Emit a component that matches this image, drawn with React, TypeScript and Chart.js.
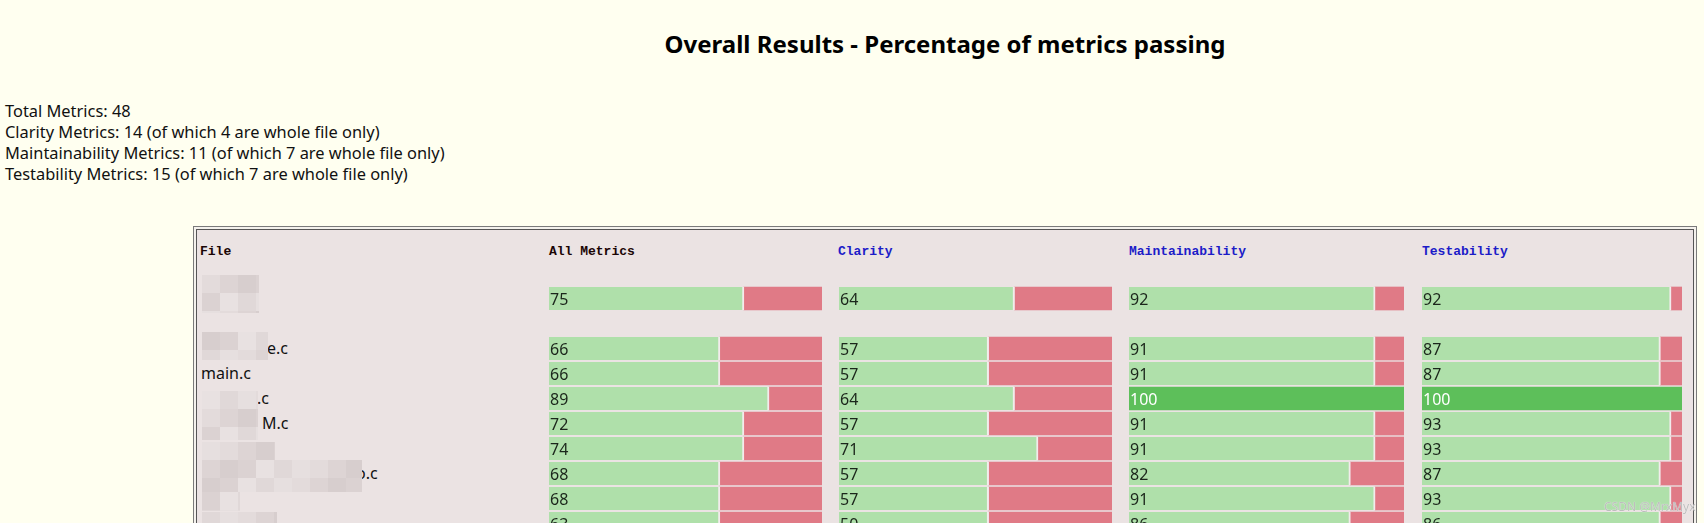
import React, { useEffect, useRef } from "react";
import { Chart, registerables } from "chart.js";

Chart.register(...registerables);

// ---------- text ----------
const titleText = "Overall Results - Percentage of metrics passing";
const summaryLines = [
  "Total Metrics: 48",
  "Clarity Metrics: 14 (of which 4 are whole file only)",
  "Maintainability Metrics: 11 (of which 7 are whole file only)",
  "Testability Metrics: 15 (of which 7 are whole file only)",
];
const columnHeaders = ["File", "All Metrics", "Clarity", "Maintainability", "Testability"];

// ---------- rows (row 0 = overall, row 1 = spacer, then one row per file) ----------
const rowKeys = ["overall", "spacer", "file1", "file2", "file3", "file4", "file5", "file6", "file7", "file8"];
const fileNames = ["", "", "e.c", "main.c", ".c", "M.c", "", "o.c", "", ""];

// percentage of metrics passing (printed value)
const allScore = [75, null, 66, 66, 89, 72, 74, 68, 68, 63];
const clarityScore = [64, null, 57, 57, 64, 57, 71, 57, 57, 50];
const maintScore = [92, null, 91, 91, 100, 91, 91, 82, 91, 86];
const testScore = [92, null, 87, 87, 100, 93, 93, 87, 93, 86];

// passing share of each bar as drawn in the picture (percent of bar length)
const allBar = [71.4, null, 62.6, 62.6, 80.6, 71.4, 71.4, 62.6, 62.6, 62.6];
const clarityBar = [64.3, null, 54.8, 54.8, 64.3, 54.8, 72.9, 54.8, 54.8, 54.8];
const maintBar = [89.5, null, 89.5, 89.5, 100, 89.5, 89.5, 80.5, 89.5, 80.5];
const testBar = [95.8, null, 91.7, 91.7, 100, 95.8, 95.8, 91.7, 95.8, 91.7];

// ---------- style / layout ----------
const PAGE_BG = "#fffff0";
const TABLE_BG = "#ebe3e3";
const GREEN = "#afe0aa";
const GREEN_FULL = "#5dbf5a";
const RED = "#e07a86";
const GAP = "#f2ecec";
const HEADER_DARK = "#1a0505";
const HEADER_BLUE = "#1c1cc8";

const BAR_TOP = 286;
const ROW_PITCH = 25;
const HEADER_X = [200, 549, 838, 1129, 1422];
const COLS = [
  { left: 549, width: 273 },
  { left: 839, width: 273 },
  { left: 1129, width: 275 },
  { left: 1422, width: 260 },
];
const FILE_X = [201, 201, 267, 201, 257, 262, 201, 356, 201, 201];

// pixelated (blurred) name areas
const BLUR_RECTS = [
  { x: 202, y: 275, w: 57, h: 38 },
  { x: 202, y: 332, w: 66, h: 28 },
  { x: 202, y: 391, w: 56, h: 49 },
  { x: 202, y: 442, w: 73, h: 18 },
  { x: 202, y: 460, w: 160, h: 32 },
  { x: 202, y: 492, w: 38, h: 19 },
  { x: 202, y: 512, w: 75, h: 20 },
];
const BLUR_SHADES = ["#e3dbdb", "#dbd2d2", "#e6dfdf", "#d7cece", "#e0d8d8", "#ddd4d4", "#e8e1e1"];

function Mosaic({ x, y, w, h, seed }: { x: number; y: number; w: number; h: number; seed: number }) {
  const cells: React.ReactNode[] = [];
  const cs = 18;
  let k = 0;
  for (let yy = 0; yy < h; yy += cs) {
    for (let xx = 0; xx < w; xx += cs) {
      const shade = BLUR_SHADES[(seed * 3 + k * 5 + (yy / cs) * 2) % BLUR_SHADES.length];
      cells.push(
        <div
          key={k}
          style={{
            position: "absolute",
            left: x + xx,
            top: y + yy,
            width: Math.min(cs, w - xx),
            height: Math.min(cs, h - yy),
            background: shade,
          }}
        />
      );
      k++;
    }
  }
  return <>{cells}</>;
}

function BarColumn({
  scores,
  bars,
  left,
  width,
}: {
  scores: (number | null)[];
  bars: (number | null)[];
  left: number;
  width: number;
}) {
  const ref = useRef<HTMLCanvasElement | null>(null);
  useEffect(() => {
    if (!ref.current) return;
    const labelPlugin = {
      id: "scoreLabels",
      afterDatasetsDraw(chart: any) {
        const ctx = chart.ctx;
        const meta = chart.getDatasetMeta(0);
        ctx.save();
        ctx.font = "16px 'Noto Sans'";
        ctx.textAlign = "left";
        ctx.textBaseline = "alphabetic";
        scores.forEach((s, i) => {
          if (s == null) return;
          const el = meta.data[i];
          ctx.fillStyle = s >= 100 ? "#ffffff" : "#1b261b";
          ctx.fillText(String(s), 1, el.y + 6.5);
        });
        ctx.restore();
      },
    };
    const chart = new Chart(ref.current, {
      type: "bar",
      data: {
        labels: rowKeys,
        datasets: [
          {
            data: bars as any,
            backgroundColor: bars.map((v) => (v != null && v >= 100 ? GREEN_FULL : GREEN)),
            borderColor: GAP,
            borderWidth: bars.map((v) => ({ top: 0, bottom: 0, left: 0, right: v != null && v >= 100 ? 0 : 2 })) as any,
            borderSkipped: false,
            barThickness: 23,
            stack: "s",
          },
          {
            data: bars.map((v) => (v == null ? null : 100 - v)) as any,
            backgroundColor: RED,
            borderWidth: 0,
            barThickness: 23,
            stack: "s",
          },
        ],
      },
      options: {
        indexAxis: "y",
        responsive: false,
        maintainAspectRatio: false,
        animation: false,
        events: [],
        layout: { padding: 0 },
        scales: {
          x: { display: false, stacked: true, min: 0, max: 100 },
          y: { display: false, stacked: true },
        },
        plugins: {
          legend: { display: false },
          tooltip: { enabled: false },
          title: { display: false },
        },
      },
      plugins: [labelPlugin],
    });
    return () => chart.destroy();
  }, [scores, bars]);
  return (
    <canvas
      ref={ref}
      width={width}
      height={ROW_PITCH * rowKeys.length}
      style={{
        position: "absolute",
        left,
        top: BAR_TOP,
        width,
        height: ROW_PITCH * rowKeys.length,
      }}
    />
  );
}

export default function App() {
  const columns = [
    { scores: allScore, bars: allBar },
    { scores: clarityScore, bars: clarityBar },
    { scores: maintScore, bars: maintBar },
    { scores: testScore, bars: testBar },
  ];
  return (
    <div
      style={{
        position: "fixed",
        left: 0,
        top: 0,
        width: 1704,
        height: 523,
        overflow: "hidden",
        background: PAGE_BG,
        fontFamily: "'Noto Sans', sans-serif",
        color: "#111",
      }}
    >
      <div
        style={{
          position: "absolute",
          left: 945,
          top: 32,
          transform: "translateX(-50%)",
          whiteSpace: "nowrap",
          fontSize: 24,
          lineHeight: "24px",
          fontWeight: 700,
          color: "#000",
        }}
      >
        {titleText}
      </div>
      {summaryLines.map((t, i) => (
        <div
          key={i}
          style={{
            position: "absolute",
            left: 5,
            top: 100 + 21 * i,
            fontSize: 16.4,
            lineHeight: "21px",
            whiteSpace: "nowrap",
          }}
        >
          {t}
        </div>
      ))}

      {/* table frame */}
      <div
        style={{
          position: "absolute",
          left: 193,
          top: 226,
          width: 1504,
          height: 400,
          boxSizing: "border-box",
          border: "1px solid #7a7a7a",
          background: "#f4f1ec",
        }}
      />
      <div
        style={{
          position: "absolute",
          left: 196,
          top: 229,
          width: 1498,
          height: 400,
          boxSizing: "border-box",
          border: "1px solid #555",
          background: TABLE_BG,
        }}
      />

      {columnHeaders.map((h, i) => (
        <div
          key={h}
          style={{
            position: "absolute",
            left: HEADER_X[i],
            top: 245,
            fontFamily: "'Liberation Mono', monospace",
            fontWeight: 700,
            fontSize: 13,
            lineHeight: "13px",
            whiteSpace: "nowrap",
            color: i < 2 ? HEADER_DARK : HEADER_BLUE,
          }}
        >
          {h}
        </div>
      ))}

      {fileNames.map((n, i) =>
        n ? (
          <div
            key={"f" + i}
            style={{
              position: "absolute",
              left: FILE_X[i],
              top: BAR_TOP + ROW_PITCH * i + 12.5 - 10.2,
              fontSize: 16,
              lineHeight: "21px",
              whiteSpace: "nowrap",
              color: "#111",
            }}
          >
            {n}
          </div>
        ) : null
      )}

      {BLUR_RECTS.map((r, i) => (
        <Mosaic key={"m" + i} x={r.x} y={r.y} w={r.w} h={r.h} seed={i} />
      ))}

      {columns.map((c, i) => (
        <BarColumn key={i} scores={c.scores} bars={c.bars} left={COLS[i].left} width={COLS[i].width} />
      ))}

      <div
        style={{
          position: "absolute",
          left: 1604,
          top: 499,
          fontSize: 12,
          lineHeight: "16px",
          whiteSpace: "nowrap",
          color: "#bdbdbd",
          textShadow: "0 0 1px #ffffff",
        }}
      >
        CSDN @MrxMyx
      </div>
    </div>
  );
}
